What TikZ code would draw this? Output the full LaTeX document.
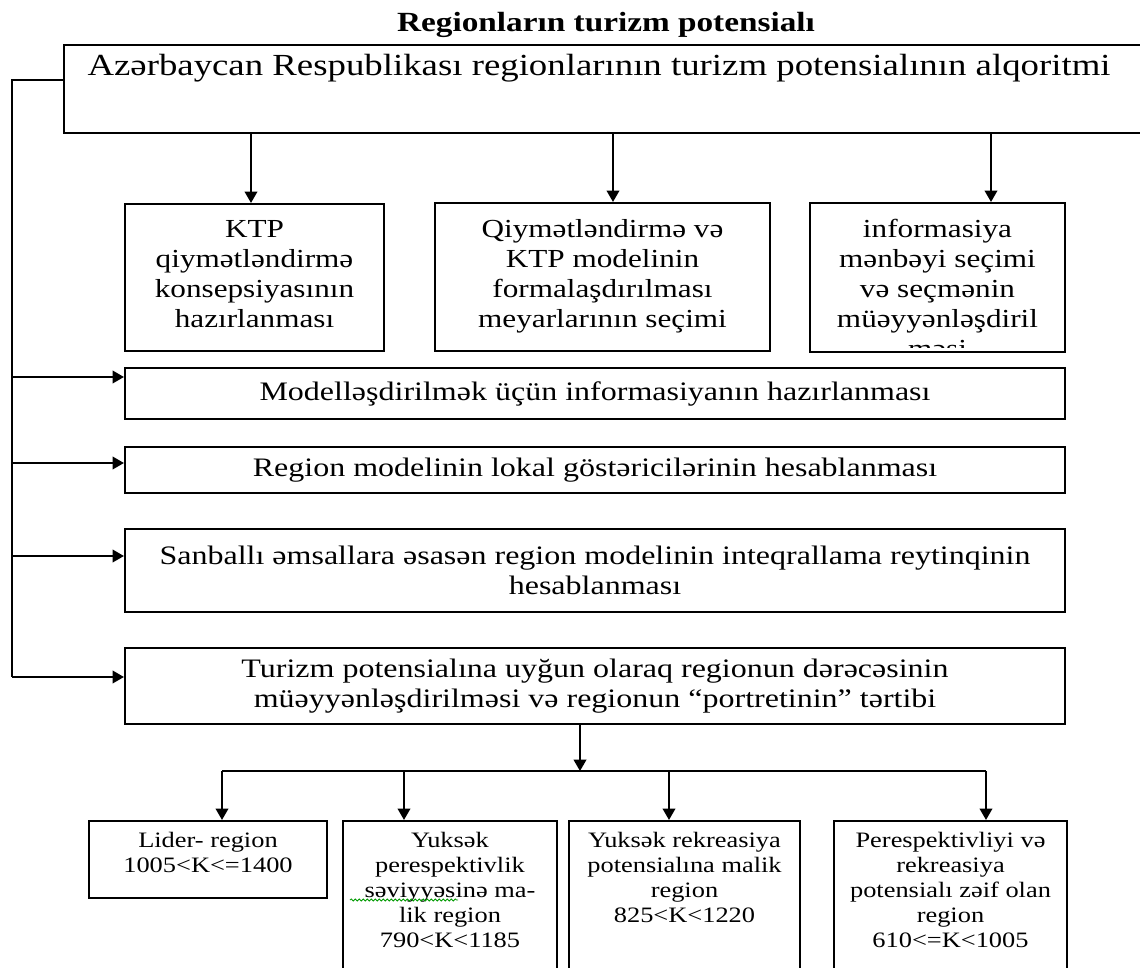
\documentclass[tikz,border=0pt]{standalone}
\usepackage{fontspec}
\setmainfont{Liberation Serif}[FakeStretch=1.2]
\usepackage{tikz}
\usetikzlibrary{arrows.meta,decorations.pathmorphing}

\tikzset{
  box/.style={draw, line width=1.6pt, inner sep=0pt},
  arr/.style={line width=1.2pt, -{Triangle[length=8.5pt,width=9.5pt]}},
  mtxt/.style={inner sep=0pt, align=center, font=\fontsize{19.5}{22.5}\selectfont},
  wtxt/.style={align=center, font=\fontsize{20}{22.5}\selectfont},
  btxt/.style={inner sep=0pt, align=center, font=\fontsize{16.5}{18.75}\selectfont},
}

\begin{document}
\begin{tikzpicture}[x=0.75pt,y=-0.75pt]
\useasboundingbox (0,0) rectangle (1140,968);
\clip (0,0) rectangle (1140,968);

\node[font=\bfseries\fontsize{20.8}{24}\selectfont] (title) at (606,25) {Regionların turizm potensialı};

% algoritm
\node[box, anchor=north west, minimum width=815pt, minimum height=66pt] (alg) at (63,44) {};
\node[font=\fontsize{23}{27}\selectfont] (algt) at (599,68) {Azərbaycan Respublikası regionlarının turizm potensialının alqoritmi};

% 3 blok
\node[box, minimum width=194.25pt, minimum height=110.25pt] (k1) at (254.5,277.5) {};
\node[box, minimum width=251.25pt, minimum height=111pt] (k2) at (602.5,277) {};
\node[box, minimum width=191.25pt, minimum height=111.75pt] (k3) at (937.5,277.5) {};
\node[mtxt, anchor=north] (k1t) at ([yshift=-13pt]k1.north) {KTP\\qiymətləndirmə\\konsepsiyasının\\hazırlanması};
\node[mtxt, anchor=north] (k2t) at ([yshift=-13pt]k2.north) {Qiymətləndirmə və\\KTP modelinin\\formalaşdırılması\\meyarlarının seçimi};
\begin{scope}
\clip (k3.north west) rectangle ([yshift=4pt]k3.south east);
\node[mtxt, anchor=north] (k3t) at ([yshift=-13pt]k3.north) {informasiya\\mənbəyi seçimi\\və seçmənin\\müəyyənləşdiril\\məsi};
\end{scope}

\foreach \b/\xx in {k1/251,k2/613,k3/991}
  \draw[arr] (alg.south -| \xx,0) -- (\b.north -| \xx,0);

% addimlar
\node[box, wtxt, minimum width=705pt, minimum height=38.25pt] (mod) at (595,393.5) {Modelləşdirilmək üçün informasiyanın hazırlanması};
\node[box, wtxt, minimum width=705pt, minimum height=34.5pt] (lok) at (595,470) {Region modelinin lokal göstəricilərinin hesablanması};
\node[box, wtxt, minimum width=705pt, minimum height=62.25pt] (int) at (595,570.5) {Sanballı əmsallara əsasən region modelinin inteqrallama reytinqinin\\hesablanması};
\node[box, wtxt, minimum width=705pt, minimum height=57pt] (der) at (595,686) {Turizm potensialına uyğun olaraq regionun dərəcəsinin\\müəyyənləşdirilməsi və regionun “portretinin” tərtibi};

\coordinate (top) at (12,80);
\draw[line width=1.2pt] (alg.west |- top) -- (top) -- (12,677);
\foreach \b/\yy in {mod/377,lok/463,int/556,der/677}
{
  \coordinate (t\b) at (12,\yy);
  \draw[arr] (t\b) -- (t\b -| \b.west);
}

% regionlar
\node[box, minimum width=178.5pt, minimum height=57.75pt] (r1) at (208,859.5) {};
\node[box, minimum width=160.5pt, minimum height=134.25pt] (r2) at (450,910.5) {};
\node[box, minimum width=173.25pt, minimum height=134.25pt] (r3) at (684.5,910.5) {};
\node[box, minimum width=174.75pt, minimum height=134.25pt] (r4) at (950.5,910.5) {};
\node[btxt, anchor=north] (r1t) at ([yshift=-9pt]r1.north) {Lider- region\\1005<K<=1400};
\node[btxt, anchor=north] (r2t) at ([yshift=-9pt]r2.north) {Yuksək\\perespektivlik\\səviyyəsinə ma-\\lik region\\790<K<1185};
\node[btxt, anchor=north] (r3t) at ([yshift=-9pt]r3.north) {Yuksək rekreasiya\\potensialına malik\\region\\825<K<1220};
\node[btxt, anchor=north] (r4t) at ([yshift=-9pt]r4.north) {Perespektivliyi və\\rekreasiya\\potensialı zəif olan\\region\\610<=K<1005};

\coordinate (hub) at (580,771);
\draw[arr] (der.south -| hub) -- (hub);
\draw[line width=1.2pt] (222,771) -- (986,771);
\foreach \b/\xx in {r1/222,r2/404,r3/669,r4/986}
  \draw[arr] (hub -| \xx,0) -- (\b.north -| \xx,0);

\draw[green!60!black, line width=0.6pt, decorate, decoration={snake, amplitude=0.8pt, segment length=3pt}] (350,900) -- (458,900);
\end{tikzpicture}
\end{document}
